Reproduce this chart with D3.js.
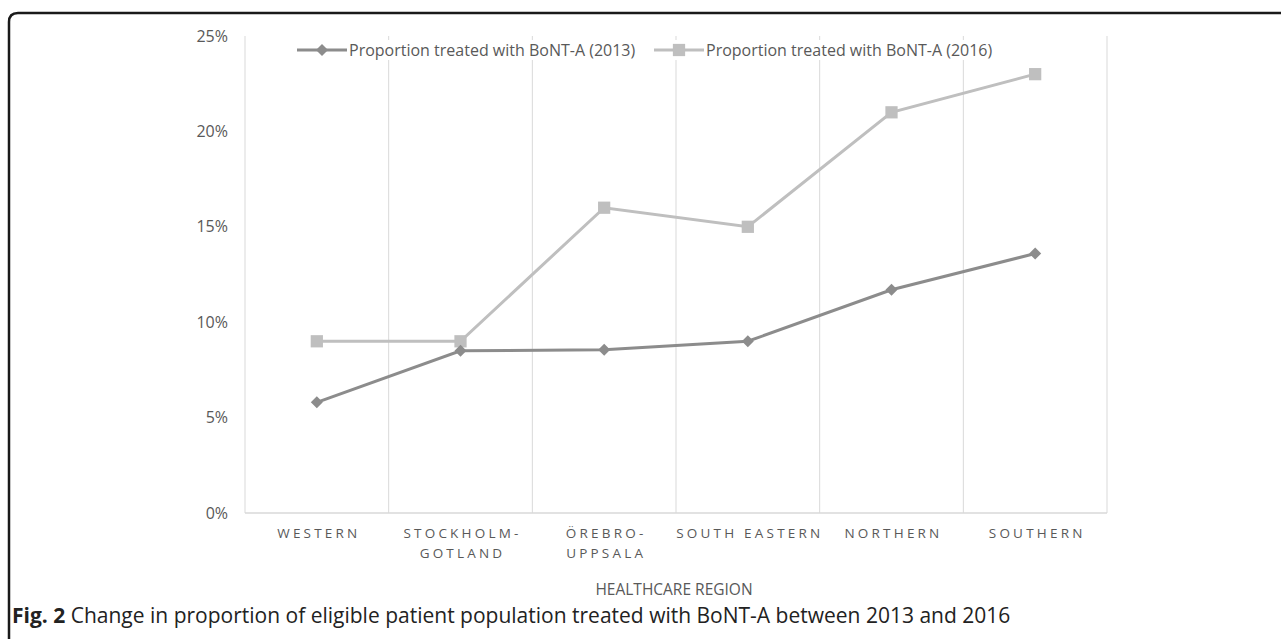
<!DOCTYPE html>
<html>
<head>
<meta charset="utf-8">
<script src="https://cdn.jsdelivr.net/npm/d3@7"></script>
<style>
  body { margin: 0; background: #fff; }
  svg { display: block; }
</style>
</head>
<body>
<svg id="chart" width="1281" height="639"></svg>
<script>
"use strict";

// data
const regions = ["WESTERN", "STOCKHOLM-\nGOTLAND", "ÖREBRO-\nUPPSALA", "SOUTH EASTERN", "NORTHERN", "SOUTHERN"];
const treated2013 = [0.058, 0.085, 0.0855, 0.09, 0.117, 0.136];
const treated2016 = [0.09, 0.09, 0.16, 0.15, 0.21, 0.23];
const yTicks = [0, 0.05, 0.10, 0.15, 0.20, 0.25];
const seriesNames = ["Proportion treated with BoNT-A (2013)", "Proportion treated with BoNT-A (2016)"];

const font = "'Open Sans', 'Noto Sans', sans-serif";
const textGrey = "#595959";
const gridGrey = "#d9d9d9";
const col2013 = "#8c8c8c";
const col2016 = "#bfbfbf";

let svg = d3.select("#chart");

// frame round the figure (open on the right and bottom)
svg.append("path")
  .attr("d", "M9,660 L9,22 Q9,13 18,13 L1300,13")
  .attr("fill", "none")
  .attr("stroke", "#1a1a1a")
  .attr("stroke-width", 2.5);

let x = d3.scaleBand().domain(regions).range([245, 1107]);
let y = d3.scaleLinear().domain([0, 0.25]).range([513, 36]);

// vertical category separators
let seps = x.domain().map(d => x(d)).concat([x.range()[1]]);
svg.append("g").selectAll("line")
  .data(seps)
  .join("line")
  .attr("x1", d => d).attr("x2", d => d)
  .attr("y1", y(0.25)).attr("y2", y(0))
  .attr("stroke", gridGrey).attr("stroke-width", 1);

svg.append("line")
  .attr("x1", x.range()[0]).attr("x2", x.range()[1])
  .attr("y1", y(0)).attr("y2", y(0))
  .attr("stroke", gridGrey).attr("stroke-width", 1.5);

// y axis labels
let yAxis = svg.append("g")
  .attr("transform", "translate(232,0)")
  .call(d3.axisLeft(y).tickValues(yTicks).tickFormat(d3.format(".0%")).tickSize(0).tickPadding(4));
yAxis.select(".domain").remove();
yAxis.selectAll("text")
  .attr("font-family", font)
  .attr("font-size", 16)
  .attr("fill", textGrey);

// category labels
let xl = svg.append("g").selectAll("text")
  .data(regions)
  .join("text")
  .attr("x", d => x(d) + x.bandwidth() / 2 + 2)
  .attr("y", 538)
  .attr("text-anchor", "middle")
  .attr("font-family", font)
  .attr("font-size", 13.5)
  .attr("letter-spacing", 3.2)
  .attr("fill", textGrey);
xl.each(function(d) {
  let parts = d.split("\n");
  let t = d3.select(this);
  parts.forEach(function(p, i) {
    t.append("tspan")
      .attr("x", t.attr("x"))
      .attr("dy", i == 0 ? 0 : 20)
      .text(p);
  });
});

svg.append("text")
  .attr("x", 674)
  .attr("y", 595)
  .attr("text-anchor", "middle")
  .attr("font-family", font)
  .attr("font-size", 15.5)
  .attr("fill", textGrey)
  .text("HEALTHCARE REGION");

// series lines
let line = d3.line()
  .x((d, i) => x(regions[i]) + x.bandwidth() / 2)
  .y(d => y(d));

svg.append("path")
  .datum(treated2016)
  .attr("d", line)
  .attr("fill", "none")
  .attr("stroke", col2016)
  .attr("stroke-width", 3);

svg.append("path")
  .datum(treated2013)
  .attr("d", line)
  .attr("fill", "none")
  .attr("stroke", col2013)
  .attr("stroke-width", 3);

let square = d3.symbol().type(d3.symbolSquare).size(150);
let diamond = d3.symbol().type(d3.symbolSquare).size(72);

svg.append("g").selectAll("path")
  .data(treated2016)
  .join("path")
  .attr("d", square)
  .attr("transform", (d, i) => "translate(" + (x(regions[i]) + x.bandwidth() / 2) + "," + y(d) + ")")
  .attr("fill", col2016);

svg.append("g").selectAll("path")
  .data(treated2013)
  .join("path")
  .attr("d", diamond)
  .attr("transform", (d, i) => "translate(" + (x(regions[i]) + x.bandwidth() / 2) + "," + y(d) + ") rotate(45)")
  .attr("fill", col2013);

// legend
let legendX = [297, 654];
let legendCols = [col2013, col2016];
let legendSyms = [diamond, square];
let legendRot = [45, 0];
seriesNames.forEach(function(name, i) {
  let g = svg.append("g").attr("transform", "translate(" + legendX[i] + ",50)");
  let txt = g.append("text")
    .attr("x", 52)
    .attr("y", 5.5)
    .attr("font-family", font)
    .attr("font-size", 16)
    .attr("fill", textGrey)
    .text(name);
  let w = txt.node().getComputedTextLength();
  g.insert("rect", "text")
    .attr("x", -2).attr("y", -10)
    .attr("width", w + 58).attr("height", 20)
    .attr("fill", "#fff");
  g.append("line")
    .attr("x1", 0).attr("x2", 50)
    .attr("y1", 0).attr("y2", 0)
    .attr("stroke", legendCols[i])
    .attr("stroke-width", 3);
  g.append("path")
    .attr("d", legendSyms[i])
    .attr("transform", "translate(25,0) rotate(" + legendRot[i] + ")")
    .attr("fill", legendCols[i]);
});

// caption
let cap = svg.append("text")
  .attr("x", 12)
  .attr("y", 623)
  .attr("font-family", font)
  .attr("font-size", 21)
  .attr("fill", "#222");
cap.append("tspan").attr("font-weight", "bold").text("Fig. 2");
cap.append("tspan").text(" Change in proportion of eligible patient population treated with BoNT-A between 2013 and 2016");
</script>
</body>
</html>
